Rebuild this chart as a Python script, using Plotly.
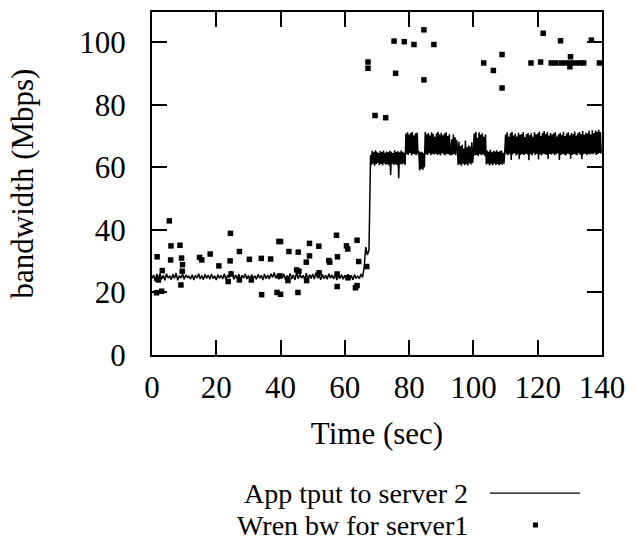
import plotly.graph_objects as go

# ---------------- data ----------------
slow_step = 0.5   # sampling (s) before the switch
fast_step = 0.25  # sampling (s) after the switch
switch_time = 68.0

# App tput to server 2 (Mbps), t = 0 .. 65.5 s (0.5 s steps)
tput_phase1 = [
    24.5, 25.6, 23.6, 25.9, 24.4, 26.1, 24.2, 25.5, 23.9, 26.0, 24.6, 25.3,
    24.1, 25.8, 24.5, 26.2, 23.9, 25.4, 24.6, 25.9, 24.2, 25.6, 24.8, 25.2,
    24.3, 25.7, 24.0, 25.5, 24.6, 26.0, 24.3, 25.4, 24.1, 25.8, 24.5, 25.6,
    24.2, 25.9, 24.4, 25.3, 24.0, 25.7, 24.6, 25.5, 24.3, 26.0, 24.1, 25.4,
    24.8, 26.8, 25.9, 24.2, 25.6, 24.4, 25.8, 24.0, 25.5, 24.6, 25.9, 24.3,
    25.4, 24.1, 25.7, 24.5, 25.3, 24.2, 25.8, 24.6, 25.5, 24.0, 25.9, 24.4,
    25.6, 24.3, 26.0, 24.8, 26.4, 24.5, 25.7, 24.2, 25.5, 24.6, 25.9, 24.1,
    25.4, 24.5, 26.1, 24.3, 25.6, 24.0, 26.5, 24.4, 25.8, 24.6, 25.5, 24.2,
    26.2, 24.0, 25.7, 24.5, 25.9, 24.3, 26.3, 24.6, 25.4, 24.1, 25.8, 24.4,
    25.5, 24.2, 26.0, 24.6, 25.6, 24.3, 25.9, 24.0, 25.4, 24.5, 25.7, 24.2,
    25.5, 24.6, 25.8, 24.3, 25.4, 24.1, 25.7, 24.5, 25.2, 24.4, 25.9, 24.8,
]
# t = 66.0 .. 67.5 s (0.5 s steps)
tput_ramp = [28.0, 34.5, 32.0, 33.5]
# t = 68.0 .. 139.75 s (0.25 s steps)
tput_phase2 = [
    # 68.00 - 78.75
    64.0, 60.8, 65.3, 61.2, 64.8, 60.5, 65.5, 61.0, 65.0, 61.4, 64.6, 60.7,
    65.2, 61.1, 64.9, 60.6, 65.4, 61.3, 64.7, 60.9, 65.1, 61.0, 64.8, 60.6,
    65.3, 57.6, 65.0, 61.2, 64.6, 60.8, 65.5, 61.0, 64.9, 60.7, 65.2, 56.5,
    64.8, 61.1, 65.4, 60.9, 65.0, 61.3, 64.7, 60.8,
    # 79.00 - 82.75
    70.8, 64.2, 71.2, 64.0, 70.5, 64.6, 71.0, 63.8, 71.3, 64.3, 70.2, 64.1,
    70.9, 63.9, 71.1, 64.4,
    # 83.00 - 84.75
    65.2, 59.0, 64.8, 59.5, 65.0, 59.2, 64.6, 60.0,
    # 85.00 - 92.75
    71.3, 64.2, 70.6, 64.0, 71.0, 64.5, 70.2, 63.9, 71.2, 64.3, 70.7, 64.1,
    69.8, 64.4, 70.9, 64.0, 71.4, 64.2, 70.5, 63.8, 71.1, 64.5, 70.3, 64.1,
    70.8, 63.9, 71.2, 64.3, 70.0, 64.2, 70.6, 64.0,
    # 93.00 - 94.75
    64.2, 69.0, 64.0, 70.5, 64.3, 69.6, 63.9, 68.8,
    # 95.00 - 99.75
    66.5, 60.8, 68.3, 61.0, 66.8, 60.5, 67.2, 61.2, 66.0, 60.7, 68.6, 61.0,
    66.4, 60.6, 67.0, 61.3, 66.7, 60.9, 68.0, 61.4,
    # 100.00 - 103.75
    64.5, 70.8, 63.8, 71.4, 64.0, 69.5, 63.6, 71.2, 64.2, 70.4, 63.9, 70.9,
    64.1, 69.8, 63.7, 70.6,
    # 104.00 - 109.75
    60.9, 65.4, 61.2, 65.0, 60.6, 65.6, 61.0, 64.8, 60.7, 65.3, 61.3, 65.1,
    60.8, 65.5, 61.1, 64.9, 60.6, 65.2, 61.0, 65.4, 60.9, 64.7, 61.2, 65.0,
    # 110.00 - 139.75
    70.5, 64.2, 71.2, 63.9, 69.8, 64.4, 70.9, 62.4, 71.4, 64.1, 70.2, 64.5,
    70.8, 63.8, 69.9, 64.2, 71.1, 62.6, 70.4, 64.0, 70.7, 64.3, 71.3, 63.9,
    69.7, 64.4, 70.6, 64.1, 71.0, 62.3, 70.3, 64.2, 70.9, 63.8, 69.8, 64.5,
    71.2, 64.0, 70.5, 64.3, 70.8, 62.5, 71.5, 64.1, 70.1, 63.9, 71.0, 64.4,
    71.6, 64.2, 70.7, 64.0, 71.3, 62.7, 70.2, 64.3, 71.0, 64.1, 70.5, 64.4,
    70.9, 63.9, 71.2, 64.2, 69.9, 64.5, 70.6, 62.4, 71.1, 64.0, 70.4, 64.3,
    71.4, 64.1, 70.0, 63.8, 70.8, 64.4, 71.2, 64.2, 70.3, 62.8, 71.0, 64.0,
    70.6, 64.3, 71.5, 64.1, 70.2, 63.9, 70.9, 64.5, 71.3, 64.0, 70.7, 62.6,
    71.6, 64.2, 70.4, 64.4, 71.1, 63.9, 70.8, 64.3, 71.7, 64.1, 70.5, 64.4,
    71.9, 64.2, 71.0, 64.5, 71.8, 64.0, 71.4, 64.3, 72.0, 64.6, 71.2, 64.4,
]
slow_vals = tput_phase1 + tput_ramp
tput = slow_vals + tput_phase2
tput_time = ([round(i * slow_step, 2) for i in range(len(slow_vals))] +
             [round(switch_time + i * fast_step, 2) for i in range(len(tput_phase2))])

# Wren bw for server1 (Mbps)
wren_x = [1.4, 1.6, 2.0, 3.0, 3.2, 5.4, 5.8, 5.9, 8.7, 9.0, 9.2, 9.4, 9.5,
          14.8, 15.5, 18.1, 20.8, 23.7, 24.3, 24.4, 24.6, 27.2, 27.2, 30.3,
          30.9, 34.0, 34.1, 36.9, 38.9, 39.5, 39.8, 40.0, 40.0, 42.3, 42.6,
          45.0, 45.4, 45.5, 45.7, 48.0, 48.1, 49.0, 49.0, 51.9, 52.0, 55.0,
          55.3, 57.4, 57.6, 57.6, 57.7, 60.5, 60.9, 61.0, 63.3, 63.8, 63.8,
          64.3, 66.8, 67.2, 67.2, 69.4, 72.7, 75.3, 75.8, 78.5, 81.5, 84.6,
          84.6, 87.7, 103.2, 106.2, 108.9, 108.9, 117.9, 120.9, 121.7, 124.2,
          125.6, 127.1, 127.3, 128.7, 130.0, 130.2, 130.2, 131.7, 133.3,
          134.3, 136.7, 139.2]
wren_y = [19.9, 31.4, 24.0, 20.4, 27.0, 42.9, 30.4, 34.9, 35.1, 22.4, 31.0, 26.8, 28.9,
          31.2, 30.4, 32.3, 28.5, 23.5, 30.1, 38.9, 25.9, 33.1, 24.0, 30.6,
          24.0, 30.9, 19.3, 30.7, 20.0, 36.3, 25.3, 36.3, 19.4, 23.8, 33.1,
          27.2, 20.0, 32.9, 26.8, 29.7, 23.8, 35.7, 31.7, 34.8, 26.3, 30.2,
          29.7, 38.3, 25.9, 21.9, 31.4, 34.9, 33.9, 24.7, 21.5, 22.2, 36.7,
          29.9, 28.3, 93.7, 91.7, 76.6, 75.9, 100.4, 90.1, 100.2, 99.3, 104.0,
          88.0, 99.3, 93.4, 91.0, 96.1, 85.4, 93.4, 93.7, 102.9, 93.4,
          93.4, 100.5, 93.4, 93.4, 92.2, 95.4, 93.4, 93.4, 93.4,
          93.4, 100.7, 93.4]

x_ticks = [0, 20, 40, 60, 80, 100, 120, 140]
y_ticks = [0, 20, 40, 60, 80, 100]
legend_labels = ["App tput to server 2", "Wren bw for server1"]

# ---------------- layout helpers ----------------
W, H = 635, 546
L, R, T, B = 152, 30, 10, 191
PW, PH = W - L - R, H - T - B
FONT = "Liberation Serif"
FS = 31
LEG_FS = 28


def px(x):
    return (x - L) / PW


def py(y):
    return (H - B - y) / PH


fig = go.Figure()
fig.add_trace(go.Scatter(
    x=tput_time, y=tput, mode="lines",
    line=dict(color="black", width=1.5, simplify=False),
    name=legend_labels[0], showlegend=False,
))
fig.add_trace(go.Scatter(
    x=wren_x, y=wren_y, mode="markers",
    marker=dict(symbol="square", size=5.5, color="black", line=dict(width=0)),
    name=legend_labels[1], showlegend=False,
))

axis_common = dict(
    showgrid=False, zeroline=False, showline=True, linecolor="black",
    linewidth=2, mirror="ticks", ticks="inside", ticklen=15, tickwidth=2,
    tickcolor="black", tickfont=dict(family=FONT, size=FS, color="black"),
)

fig.update_layout(
    width=W, height=H,
    margin=dict(l=L, r=R, t=T, b=B),
    paper_bgcolor="white", plot_bgcolor="white",
    font=dict(family=FONT, size=FS, color="black"),
    xaxis=dict(range=[0, 140], tickvals=x_ticks, ticklabelstandoff=4,
               title=dict(text="Time (sec)", font=dict(family=FONT, size=FS),
                          standoff=18),
               **axis_common),
    yaxis=dict(range=[0, 109.7], tickvals=y_ticks, ticklabelstandoff=18,
               title=dict(text="bandwidth (Mbps)", font=dict(family=FONT, size=FS),
                          standoff=36),
               **axis_common),
    showlegend=False,
)

# custom gnuplot-style legend: text right-aligned, sample to the right
legend_rows_y = [494, 526]
for label, yy in zip(legend_labels, legend_rows_y):
    fig.add_annotation(text=label, xref="paper", yref="paper",
                       x=px(471), y=py(yy), xanchor="right", yanchor="middle",
                       showarrow=False, borderpad=0,
                       font=dict(family=FONT, size=LEG_FS, color="black"))
fig.add_shape(type="line", xref="paper", yref="paper",
              x0=px(492), x1=px(583), y0=py(legend_rows_y[0]), y1=py(legend_rows_y[0]),
              line=dict(color="black", width=1.3))
fig.add_shape(type="rect", xref="paper", yref="paper",
              x0=px(535.5), x1=px(540.5),
              y0=py(legend_rows_y[1] - 2.5), y1=py(legend_rows_y[1] + 2.5),
              line=dict(width=0), fillcolor="black")

fig.write_html("out.html")
